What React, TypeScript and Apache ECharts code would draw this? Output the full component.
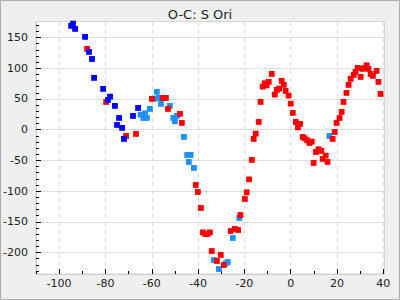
import React, { useEffect, useRef } from "react";
import * as echarts from "echarts";

const TITLE = "O-C: S Ori";

const X_LABELS = [-100, -80, -60, -40, -20, 0, 20, 40];
const X_MINOR = [-110, -100, -90, -80, -70, -60, -50, -40, -30, -20, -10, 0, 10, 20, 30, 40];
const Y_LABELS = [-200, -150, -100, -50, 0, 50, 100, 150];
const Y_MINOR = [-230, -220, -210, -200, -190, -180, -170, -160, -150, -140, -130, -120, -110, -100, -90, -80, -70, -60, -50, -40, -30, -20, -10, 0, 10, 20, 30, 40, 50, 60, 70, 80, 90, 100, 110, 120, 130, 140, 150, 160, 170];

const lightBluePoints = [
  [-57.8, 61.4], [-58.7, 50.5], [-57.0, 51.6], [-56.0, 41.9], [-60.8, 33.7], [-52.2, 38.6],
  [-64.8, 24.4], [-62.9, 26.6], [-63.6, 19], [-62.1, 19], [-50.7, 19], [-49.1, 22.3],
  [-50.0, 13.5], [-46.1, -11.9], [-44.7, -41.2], [-43.2, -41.2], [-44.0, -52.6], [-41.8, -62.4],
  [-33.2, -212.2], [-31.0, -226.9], [-28.0, -217.7], [-27.2, -215.5], [-25.0, -176.4], [-22.2, -143.8],
  [16.7, -10.3],
];

const redPoints = [
  [-87.9, 131.4], [-79.7, 45.1], [-71.1, -10.3], [-66.8, -7], [-59.9, 50], [-55.3, 51.6],
  [-53.9, 51.6], [-53.0, 33.7], [-47.8, 25.6], [-47.0, 10.9], [-41.0, -90.1], [-40.1, -101.5],
  [-38.8, -127.5], [-37.9, -167.3], [-36.9, -169.9], [-35.9, -169.9], [-34.9, -167.3], [-34.1, -197.6],
  [-30.2, -204], [-31.9, -213.8], [-28.9, -220.4], [-25.9, -165], [-24.1, -161.7], [-22.7, -163.4],
  [-21.7, -139], [-19.8, -112.9], [-19.0, -102], [-18.0, -81], [-16.8, -49.3], [-16.0, -15.1],
  [-15.1, -6.5], [-13.8, 12.5], [-13.0, 45.1], [-12.1, 70], [-11.2, 75.4], [-10.4, 72.1],
  [-9.5, 77.7], [-8.2, 90.7], [-6.9, 57], [-6.0, 64.7], [-5.0, 66.8], [-3.9, 79.3],
  [-3.0, 72.8], [-2.2, 63], [-0.9, 55.4], [0, 42.3], [0.9, 27.2], [2.2, 12.5],
  [3.1, 3.7], [4.1, 9.3], [5.2, -11.9], [6.0, -14.2], [7.1, -17.4], [8.1, -21.7],
  [9.1, -19.5], [9.9, -54.2], [10.9, -36.3], [12.0, -32], [13.2, -34.7], [13.8, -47.7],
  [15.1, -42.3], [15.9, -52.6], [18.1, -15.1], [19.0, -3.8], [19.8, 10.9], [21.1, 19],
  [22.0, 28.8], [22.8, 45.1], [24.1, 59.8], [25.0, 72.8], [25.9, 82.6], [27.2, 89.1],
  [28.0, 94], [28.9, 100.5], [30.2, 85.8], [31.0, 98.9], [31.9, 100.5], [32.8, 104.7],
  [33.6, 98.9], [34.5, 90.7], [35.5, 87.5], [37.1, 95.6], [37.9, 77.7], [38.8, 58.1],
];

const bluePoints = [
  [-94.8, 168.9], [-94.0, 172.6], [-93.1, 164], [-88.8, 151], [-87.1, 126.5], [-85.8, 115],
  [-84.9, 84.2], [-81.0, 66.3], [-78.0, 53.7], [-78.9, 48.4], [-75.9, 38.6], [-74.1, 19],
  [-75.0, 7.6], [-72.8, 2.8], [-72.0, -15.1], [-68.1, 22.3], [-65.9, 35.3],
];

const X_MIN = -110;
const X_MAX = 40.5;
const Y_MIN = -235;
const Y_MAX = 176;

const FONT = "DejaVu Sans";

export default function App() {
  const ref = useRef<HTMLDivElement>(null);
  useEffect(() => {
    if (!ref.current) return;
    const chart = echarts.init(ref.current, undefined, { renderer: "svg" });
    const labelStyle = { fontFamily: FONT, fontSize: 11, color: "#222" };
    const sym = 5.8;
    chart.setOption({
      animation: false,
      backgroundColor: "#efefef",
      title: {
        text: TITLE,
        left: "center",
        top: 3,
        textStyle: { fontFamily: FONT, fontSize: 13, fontWeight: "normal", color: "#222" },
      },
      graphic: [
        {
          type: "rect",
          shape: { x: 0.5, y: 0.5, width: 399, height: 299 },
          style: { fill: "none", stroke: "#adadad", lineWidth: 1 },
          silent: true,
          z: 100,
        },
      ],
      grid: {
        left: 35.5,
        right: 15.5,
        top: 21.5,
        bottom: 26,
        show: true,
        backgroundColor: "#ffffff",
        borderColor: "#d6d6d6",
        borderWidth: 1,
      },
      xAxis: [
        {
          type: "value",
          position: "bottom",
          min: X_MIN,
          max: X_MAX,
          axisLine: { show: true, onZero: false, lineStyle: { color: "#cfcfcf" } },
          axisTick: { show: true, inside: true, length: 5, customValues: X_LABELS, lineStyle: { color: "#000" } },
          axisLabel: { ...labelStyle, margin: 4, customValues: X_LABELS },
          splitLine: { show: true, lineStyle: { color: "#dcdcdc", type: [4, 4] } },
        },
        {
          type: "value",
          position: "bottom",
          min: X_MIN,
          max: X_MAX,
          axisLine: { show: false, onZero: false },
          axisTick: { show: true, inside: true, length: 3, customValues: X_MINOR, lineStyle: { color: "#000" } },
          axisLabel: { show: false },
          splitLine: { show: false },
        },
      ],
      yAxis: [
        {
          type: "value",
          position: "left",
          min: Y_MIN,
          max: Y_MAX,
          axisLine: { show: true, onZero: false, lineStyle: { color: "#cfcfcf" } },
          axisTick: { show: true, inside: true, length: 5, customValues: Y_LABELS, lineStyle: { color: "#000" } },
          axisLabel: { ...labelStyle, margin: 8, customValues: Y_LABELS },
          splitLine: { show: true, lineStyle: { color: "#dcdcdc" } },
        },
        {
          type: "value",
          position: "left",
          min: Y_MIN,
          max: Y_MAX,
          axisLine: { show: false, onZero: false },
          axisTick: { show: true, inside: true, length: 3, customValues: Y_MINOR, lineStyle: { color: "#000" } },
          axisLabel: { show: false },
          splitLine: { show: false },
        },
      ],
      series: [
        {
          type: "scatter",
          name: "lightblue",
          xAxisIndex: 0,
          yAxisIndex: 0,
          symbol: "rect",
          symbolSize: sym,
          itemStyle: { color: "#1e90ff", opacity: 1 },
          data: lightBluePoints,
        },
        {
          type: "scatter",
          name: "red",
          xAxisIndex: 0,
          yAxisIndex: 0,
          symbol: "rect",
          symbolSize: sym,
          itemStyle: { color: "#ff0000", opacity: 1 },
          data: redPoints,
        },
        {
          type: "scatter",
          name: "blue",
          xAxisIndex: 0,
          yAxisIndex: 0,
          symbol: "rect",
          symbolSize: sym,
          itemStyle: { color: "#0000ff", opacity: 1 },
          data: bluePoints,
        },
      ],
    });
    return () => chart.dispose();
  }, []);
  return (
    <div style={{ position: "fixed", left: 0, top: 0, width: 400, height: 300 }}>
      <div ref={ref} style={{ width: 400, height: 300 }} />
    </div>
  );
}
